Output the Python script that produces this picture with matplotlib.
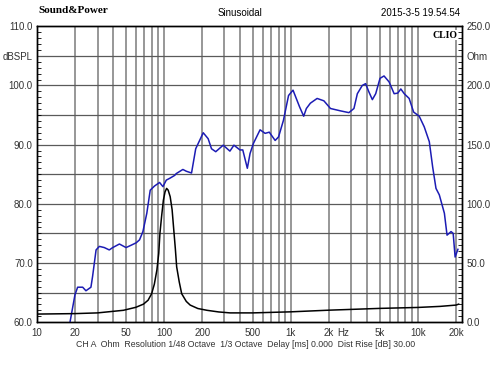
import numpy as np
import matplotlib
matplotlib.use("Agg")
import matplotlib.pyplot as plt
from matplotlib.ticker import FixedLocator, MultipleLocator, NullFormatter

# ─── Données ───────────────────────────────────────────────
spl_freq = [18.2, 19.9, 20.9, 22.9, 24.3, 26.6, 27.4, 29.2, 31.0, 33.9, 37.1, 39.5,
            44.6, 50.3, 55.2, 60.4, 64.2, 68.3, 73.3, 78.0, 84.3, 92.4, 98.2, 104.4,
            111, 121.6, 125, 141, 150, 165, 178, 204, 223, 237, 256, 293, 331, 356,
            397, 418, 454, 477, 507, 572, 627, 676, 752, 800, 874, 959, 1040, 1117,
            1170, 1262, 1325, 1425, 1610, 1820, 2052, 2462, 2866, 3140, 3340, 3655,
            3880, 4120, 4385, 4660, 5040, 5420, 5940, 6510, 6950, 7350, 7820, 8550,
            9270, 10260, 11240, 12320, 13100, 13910, 14780, 16200, 17000, 18280,
            19000, 19680, 20700]
spl_db = [60.0, 64.6, 65.9, 65.9, 65.3, 65.9, 67.7, 72.2, 72.8, 72.6, 72.2, 72.6,
          73.2, 72.6, 73.0, 73.4, 73.9, 75.3, 78.4, 82.3, 83.0, 83.6, 82.9, 84.0,
          84.3, 84.8, 85.1, 85.8, 85.5, 85.2, 89.3, 92.0, 91.0, 89.3, 88.8, 89.9,
          88.9, 89.9, 89.1, 89.1, 86.0, 88.5, 90.2, 92.5, 91.9, 92.1, 90.7, 91.3,
          94.1, 98.3, 99.2, 97.5, 96.4, 94.8, 96.1, 97.0, 97.8, 97.4, 96.1, 95.7,
          95.4, 96.1, 98.6, 100.0, 100.3, 98.9, 97.6, 98.6, 101.2, 101.6, 100.6,
          98.6, 98.7, 99.4, 98.6, 97.8, 95.5, 94.8, 93.0, 90.5, 86.2, 82.6, 81.5,
          78.4, 74.7, 75.3, 75.0, 71.0, 72.3]

imp_freq = [10, 20, 30, 48, 60, 69, 75, 80, 84, 88, 91, 93, 96, 99, 102, 105,
            108, 112, 116, 119, 123, 126, 132, 138, 150, 161, 185, 218, 270, 332,
            500, 1000, 2000, 5000, 10000, 15000, 20000, 21000]
imp_ohm = [6.8, 7.2, 7.8, 10.0, 12.5, 15.2, 18.5, 24.0, 32.0, 44.0, 58.0, 75.0,
           90.0, 103.0, 110.0, 113.0, 111.5, 106.0, 95.0, 80.5, 62.0, 46.7, 34.0,
           24.0, 17.5, 14.4, 11.5, 10.0, 8.6, 7.8, 7.8, 8.7, 10.1, 11.6, 12.4,
           13.3, 14.4, 15.2]

xtick_vals   = [10, 20, 50, 100, 200, 500, 1000, 2000, 2600, 5000, 10000, 20000]
xtick_labels = ["10", "20", "50", "100", "200", "500", "1k", "2k", "Hz", "5k", "10k", "20k"]
grid_freqs = ([10, 20, 30, 40, 50, 60, 70, 80, 90]
              + [k * 100 for k in range(1, 10)]
              + [k * 1000 for k in range(1, 10)]
              + [10000, 20000])

BLUE = "#1c1cb4"
GRID = "#5a5a5a"
FONT = "Liberation Sans"

fig = plt.figure(figsize=(5, 3.75), dpi=100)
fig.patch.set_facecolor("white")
ax = fig.add_axes([0.074, 0.141, 0.85, 0.789])
ax.set_xscale("log")
ax.set_xlim(10, 22300)
ax.set_ylim(60, 110)

for f in grid_freqs:
    ax.axvline(f, color="#7a7a7a", lw=1.1, zorder=1)
for yv in np.arange(65, 110, 5):
    ax.axhline(yv, color=GRID, lw=0.9, zorder=1)

ax.plot(spl_freq, spl_db, color=BLUE, lw=1.1, zorder=3, clip_on=True)

ax2 = ax.twinx()
ax2.set_ylim(0, 250)
ax2.plot(imp_freq, imp_ohm, color="black", lw=1.1, zorder=3)

# Axe X
ax.xaxis.set_major_locator(FixedLocator(xtick_vals))
ax.set_xticklabels(xtick_labels)
ax.xaxis.set_minor_formatter(NullFormatter())
ax.tick_params(axis="x", which="both", length=0, pad=4, labelsize=7)

# Axe Y gauche
ax.set_yticks([60, 70, 80, 90, 100, 105, 110])
ax.set_yticklabels(["60.0", "70.0", "80.0", "90.0", "100.0", "dBSPL", "110.0"])
ax.yaxis.set_minor_locator(MultipleLocator(1))
ax.tick_params(axis="y", which="major", length=0, pad=3, labelsize=7)
ax.tick_params(axis="y", which="minor", direction="in", length=3, width=0.6)

# Axe Y droit
ax2.set_yticks([0, 50, 100, 150, 200, 225, 250])
ax2.set_yticklabels(["0.0", "50.0", "100.0", "150.0", "200.0", "Ohm", "250.0"])
ax2.yaxis.set_minor_locator(MultipleLocator(5))
ax2.tick_params(axis="y", which="major", length=0, pad=3, labelsize=7)
ax2.tick_params(axis="y", which="minor", direction="in", length=3, width=0.6)

for a in (ax, ax2):
    for lab in a.get_xticklabels() + a.get_yticklabels():
        lab.set_family(FONT)
        lab.set_color("#333333")
    for spine in a.spines.values():
        spine.set_color("black")
        spine.set_linewidth(1.0)

# Textes
fig.text(0.076, 0.972, "Sound&Power", fontsize=8, weight="bold",
         family="Liberation Serif", ha="left", va="center")
fig.text(0.48, 0.965, "Sinusoidal", fontsize=7, family=FONT, ha="center", va="center")
fig.text(0.92, 0.965, "2015-3-5 19.54.54", fontsize=7, family=FONT,
         ha="right", va="center")
ax.text(0.99, 0.985, "CLIO", transform=ax.transAxes, fontsize=7, weight="bold",
        family="Liberation Serif", ha="right", va="top", zorder=5,
        bbox=dict(facecolor="white", edgecolor="none", pad=0.5))
fig.text(0.492, 0.082,
         "CH A  Ohm  Resolution 1/48 Octave  1/3 Octave  Delay [ms] 0.000  Dist Rise [dB] 30.00",
         fontsize=6.3, family=FONT, ha="center", va="center", color="#333333")

fig.savefig("out.png", dpi=100, facecolor="white")
